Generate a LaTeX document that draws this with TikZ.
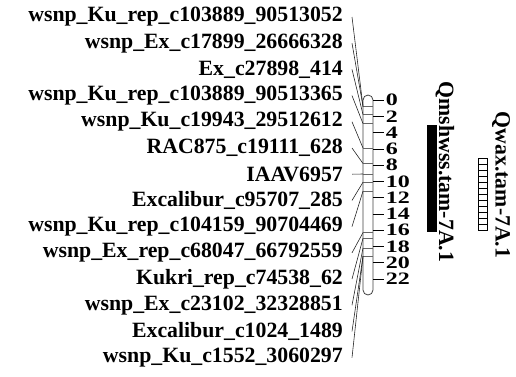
\documentclass[tikz,border=0pt]{standalone}
\usepackage{fontspec}
\setmainfont{Liberation Serif}
\usepackage{tikz}
\NewDocumentCommand{\mapfont}{}{\bfseries\fontsize{21.8}{22}\selectfont}
\tikzset{/QTL/M/locus/.style={
	anchor=east, inner xsep=9pt, inner ysep=0pt, font=\mapfont
}}
\tikzset{/QTL/M/link/.style={
	line width=0.6pt, draw=black!85
}}
\tikzset{/QTL/M/cm/.style={
	anchor=west, inner xsep=1.5pt, inner ysep=0pt, xscale=1.1, yscale=0.8, font=\mapfont
}}
\tikzset{/QTL/S/qtl/.style={
	rotate=-90, inner sep=0pt, font=\mapfont
}}

\begin{document}
\begin{tikzpicture}[x=1pt, y=-1pt]
				\useasboundingbox (0,0) rectangle (516,376);
				% marker names
				\path (352,17.0) node[/QTL/M/locus] (m1) {wsnp\_Ku\_rep\_c103889\_90513052};
				\path (352,43.2) node[/QTL/M/locus] (m2) {wsnp\_Ex\_c17899\_26666328};
				\path (352,69.4) node[/QTL/M/locus] (m3) {Ex\_c27898\_414};
				\path (352,95.6) node[/QTL/M/locus] (m4) {wsnp\_Ku\_rep\_c103889\_90513365};
				\path (352,121.8) node[/QTL/M/locus] (m5) {wsnp\_Ku\_c19943\_29512612};
				\path (352,148.0) node[/QTL/M/locus] (m6) {RAC875\_c19111\_628};
				\path (352,174.2) node[/QTL/M/locus] (m7) {IAAV6957};
				\path (352,200.4) node[/QTL/M/locus] (m8) {Excalibur\_c95707\_285};
				\path (352,226.6) node[/QTL/M/locus] (m9) {wsnp\_Ku\_rep\_c104159\_90704469};
				\path (352,252.8) node[/QTL/M/locus] (m10) {wsnp\_Ex\_rep\_c68047\_66792559};
				\path (352,279.0) node[/QTL/M/locus] (m11) {Kukri\_rep\_c74538\_62};
				\path (352,305.2) node[/QTL/M/locus] (m12) {wsnp\_Ex\_c23102\_32328851};
				\path (352,331.4) node[/QTL/M/locus] (m13) {Excalibur\_c1024\_1489};
				\path (352,357.6) node[/QTL/M/locus] (m14) {wsnp\_Ku\_c1552\_3060297};
				% chromosome 7A
				\draw[line width=0.8pt, draw=black!75, rounded corners=5pt] (363,95) rectangle (373,295);
				\foreach \k/\ypos in {1/106.5, 2/106.5, 3/114.6, 4/123.6, 5/148.0, 6/163.5, 7/174.0,
						8/182.2, 9/191.1, 10/232.6, 11/238.3, 12/248.0, 13/256.2, 14/256.2} {
					\coordinate (c\k) at (363,\ypos);
					\draw[line width=0.6pt, draw=black!60] (363,\ypos) -- (373,\ypos);
				}
				\foreach \k in {1,...,14} {
					\draw[/QTL/M/link] (m\k.east) -- (c\k);
				}
				% cM scale
				\foreach \k in {0,...,11} {
					\draw[line width=0.6pt] (373,100+16.27*\k) -- (384,100+16.27*\k)
						node[/QTL/M/cm] (t\k) {\pgfmathparse{int(2*\k)}\pgfmathresult};
				}
				% QTL intervals
				\path[fill=black] (427,125) rectangle (437,232);
				\path (445,172) node[/QTL/S/qtl] (q1) {Qmshwss.tam-7A.1};
				\draw[line width=0.6pt] (478,158) rectangle (487,230);
				\foreach \hy in {164,170,...,224} {
					\draw[line width=0.5pt] (478,\hy) -- (487,\hy);
				}
				\path (501,185) node[/QTL/S/qtl] (q2) {Qwax.tam-7A.1};
			\end{tikzpicture}
\end{document}
